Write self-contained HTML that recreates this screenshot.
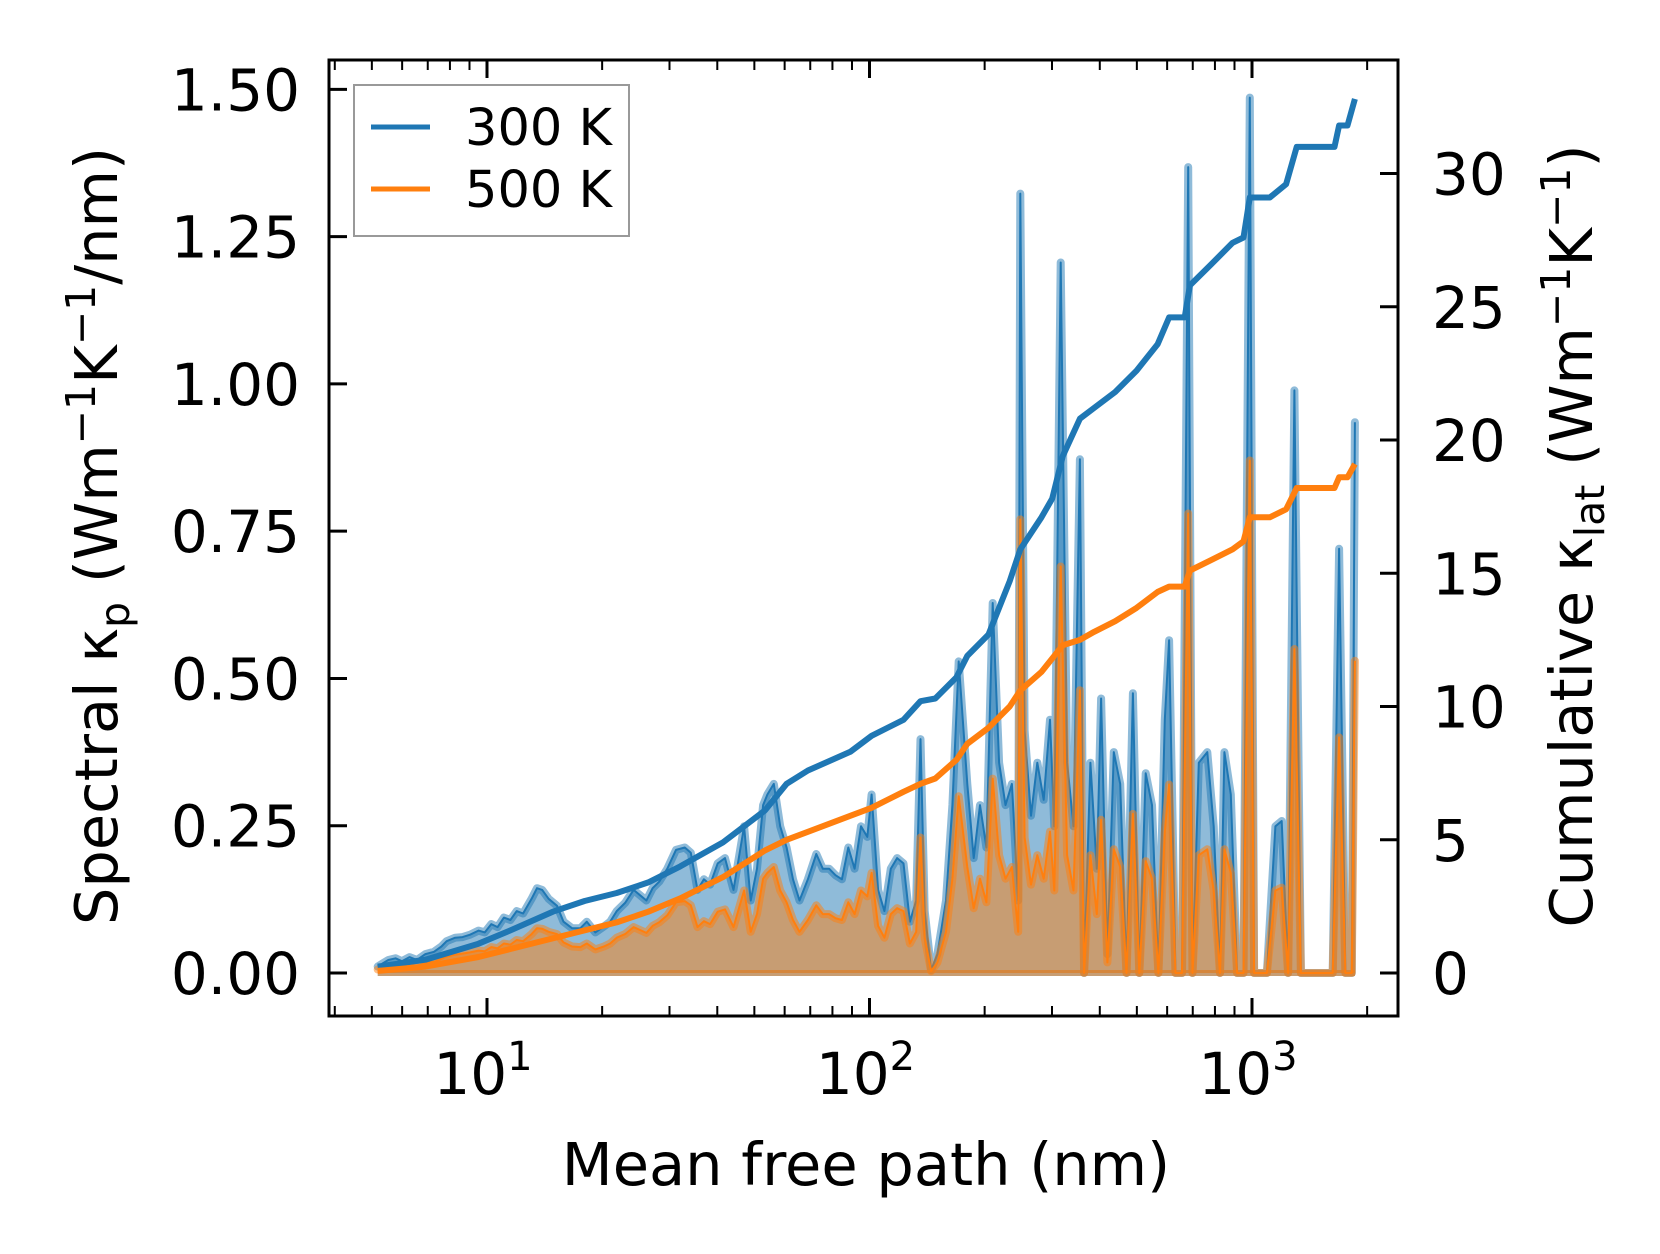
<!DOCTYPE html>
<html><head><meta charset="utf-8"><style>
html,body{margin:0;padding:0;background:#fff;}
svg{display:block;font-family:"DejaVu Sans","Liberation Sans",sans-serif;}
</style></head><body>
<svg id="chart" width="1660" height="1254" viewBox="0 0 1660 1254">
<rect width="1660" height="1254" fill="#fff"/>
<defs><clipPath id="clip"><rect x="329" y="60" width="1069" height="956"/></clipPath></defs>
<g id="marks" clip-path="url(#clip)"></g>
<g id="axes"></g>
</svg>
<script>
const mfp=[5.18,5.52,5.77,5.99,6.27,6.56,6.90,7.27,7.60,7.84,8.26,8.63,9.03,9.50,9.87,10.26,10.66,11.07,11.51,11.96,12.43,13.08,13.51,13.94,14.49,15.24,15.85,16.68,17.55,18.24,19.19,20.21,21.0,21.83,22.97,24.17,25.12,26.1,27.1,28.2,29.6,31.2,32.9,34.1,35.5,36.9,38.3,40.1,41.9,44.1,47.0,48.9,50.8,52.7,54.1,56.2,58.4,60.7,63.1,65.6,69.0,72.6,75.5,78.4,81.5,84.7,88.0,91.4,95.0,98.7,101.3,105.3,109.4,113.7,118.1,122.7,127.5,132.5,135.9,139.4,144.9,150.5,158.5,164.7,171.1,180.2,187.2,194.5,202.1,210.0,218.2,226.7,235.6,244.8,247.9,254.4,264.3,274.6,285.3,296.5,304.1,316.2,328.5,341.4,354.8,363.9,378.1,392.9,403.1,418.8,435.2,452.2,469.9,488.3,507.3,527.2,547.8,569.2,591.5,607,631,656,681,699,726,764,794,825,847,880,914,950,987,1013,1053,1094,1151,1196,1243,1291,1342,1394,1449,1625,1689,1755,1824,1858];
const spec300=[.011,.022,.025,.020,.027,.022,.032,.036,.045,.054,.060,.061,.065,.072,.069,.083,.078,.094,.090,.105,.101,.126,.144,.141,.126,.114,.087,.076,.076,.087,.069,.079,.087,.105,.119,.141,.132,.123,.144,.155,.177,.209,.213,.204,.141,.159,.150,.186,.195,.141,.249,.123,.177,.285,.303,.321,.249,.213,.159,.123,.159,.202,.177,.177,.166,.159,.213,.177,.249,.231,.303,.141,.105,.177,.195,.186,.087,.123,.397,.105,.005,.032,.123,.285,.529,.321,.195,.285,.213,.628,.357,.285,.321,.123,1.323,.412,.267,.357,.294,.430,.249,1.206,.357,.249,.872,0,.357,.177,.466,.032,.375,.321,0,.475,0,.339,.285,0,.430,.565,0,0,1.368,0,.357,.375,.249,0,.375,.303,0,0,1.486,0,0,0,.249,.258,0,.989,0,0,0,0,.72,0,0,.935];
const spec500=[.006,.010,.012,.011,.014,.012,.017,.019,.024,.028,.031,.033,.035,.038,.037,.044,.042,.050,.048,.056,.054,.066,.076,.075,.070,.066,.052,.045,.044,.050,.040,.045,.050,.060,.066,.078,.073,.068,.080,.086,.098,.120,.122,.115,.078,.088,.083,.104,.108,.078,.140,.070,.100,.160,.170,.180,.140,.120,.090,.070,.090,.115,.100,.100,.093,.090,.120,.100,.140,.130,.170,.080,.060,.100,.110,.105,.050,.070,.230,.060,.003,.018,.070,.160,.300,.180,.110,.160,.120,.330,.200,.160,.180,.070,.770,.230,.150,.200,.160,.240,.140,.690,.200,.140,.480,0,.200,.100,.260,.018,.210,.180,0,.270,0,.190,.160,0,.240,.320,0,0,.780,0,.200,.210,.140,0,.210,.170,0,0,.870,0,0,0,.140,.145,0,.550,0,0,0,0,.400,0,0,.530];
const cumMfp=[5.18,6.90,9.50,11.51,14.86,18.0,21.83,26.4,32.0,41.4,53.3,60.7,69.0,89.1,101.3,122.7,135.9,148.6,168.8,180.2,204.7,232.6,247.9,281.7,300.4,320.2,354.8,386.4,439,499,567,607,667,688,783,890,950,987,1113,1228,1309,1643,1689,1777,1858];
const cum300=[0.24,0.5,1.1,1.6,2.3,2.7,3.0,3.4,4.0,4.9,6.1,7.1,7.6,8.3,8.9,9.5,10.2,10.3,11.1,11.9,12.7,14.7,15.9,17.1,17.8,19.4,20.8,21.2,21.8,22.6,23.6,24.6,24.6,25.8,26.6,27.4,27.6,29.1,29.1,29.6,31.0,31.0,31.8,31.8,32.8];
const cum500=[0.08,0.24,0.6,0.9,1.3,1.6,1.9,2.3,2.8,3.6,4.6,5.0,5.3,5.9,6.2,6.8,7.1,7.3,8.0,8.6,9.2,10.0,10.6,11.3,11.8,12.3,12.5,12.8,13.2,13.7,14.3,14.5,14.5,15.1,15.5,15.9,16.2,17.1,17.1,17.4,18.2,18.2,18.6,18.6,19.1];
const leftTicks=[0,0.25,0.5,0.75,1.0,1.25,1.5];
const leftTickLabels=["0.00","0.25","0.50","0.75","1.00","1.25","1.50"];
const rightTicks=[0,5,10,15,20,25,30];
const xDecades=[1,2,3];

const NS="http://www.w3.org/2000/svg";
const L=329,R=1398,T=60,B=1016;
function X(v){return 487+(Math.log10(v)-1)*382.5;}
function YL(v){return 973-v*589.1;}
function YR(v){return 973-v*26.65;}
function mk(tag,attrs,parent){const e=document.createElementNS(NS,tag);for(const k in attrs)e.setAttribute(k,attrs[k]);parent.appendChild(e);return e;}
const marks=document.getElementById('marks'),axes=document.getElementById('axes');

function spectral(vals,color,nm){
  let d='M'+X(mfp[0])+','+YL(0);
  mfp.forEach((m,i)=>{d+=' L'+X(m).toFixed(1)+','+YL(vals[i]).toFixed(1);});
  d+=' L'+X(mfp[mfp.length-1])+','+YL(0)+' Z';
  const f=mk('path',{d:d,fill:color,'fill-opacity':0.5,stroke:'none'},marks);
  
  
  let p=mfp.map((m,i)=>(i?'L':'M')+X(m).toFixed(1)+','+YL(vals[i]).toFixed(1)).join(' ');
  const h=mk('path',{d:p,fill:'none',stroke:color,'stroke-width':8,'stroke-opacity':0.5,'stroke-linejoin':'round','stroke-linecap':'round'},marks);
  
  
  const l=mk('path',{d:p,fill:'none',stroke:color,'stroke-width':2,'stroke-linejoin':'round'},marks);
  
  
  const b=mk('line',{x1:X(mfp[0]),x2:X(mfp[mfp.length-1]),y1:YL(0),y2:YL(0),stroke:color,'stroke-width':6,'stroke-opacity':0.5},marks);
  
  
}
spectral(spec300,'#1f77b4','spectral-300k');
spectral(spec500,'#ff7f0e','spectral-500k');
function cum(vals,color,nm){
  const p=cumMfp.map((m,i)=>(i?'L':'M')+X(m).toFixed(1)+','+YR(vals[i]).toFixed(1)).join(' ');
  const e=mk('path',{d:p,fill:'none',stroke:color,'stroke-width':6,'stroke-linejoin':'round'},marks);
  
  
}
cum(cum300,'#1f77b4','cumulative-300k');
cum(cum500,'#ff7f0e','cumulative-500k');

const fr=mk('rect',{x:L,y:T,width:R-L,height:B-T,fill:'none',stroke:'#000','stroke-width':3},axes);


leftTicks.forEach((v,i)=>{
  const y=YL(v);
  const t=mk('line',{x1:L,x2:L+18,y1:y,y2:y,stroke:'#000','stroke-width':3},axes);
  
  
  const tx=mk('text',{x:300,y:y+21,'text-anchor':'end','font-size':58},axes);
  tx.textContent=leftTickLabels[i];
  
  
});
rightTicks.forEach(v=>{
  const y=YR(v);
  const t=mk('line',{x1:R-18,x2:R,y1:y,y2:y,stroke:'#000','stroke-width':3},axes);
  
  
  const tx=mk('text',{x:1432,y:y+21,'text-anchor':'start','font-size':58},axes);
  tx.textContent=String(v);
  
  
});
for(let dec=0;dec<=3;dec++){
  for(let k=1;k<=9;k++){
    const v=k*Math.pow(10,dec);const x=X(v);
    if(x<L+2||x>R-2)continue;
    const len=k===1?18:10;
    [[B,B-len],[T,T+len]].forEach(([a,b2])=>{
      const t=mk('line',{x1:x,x2:x,y1:a,y2:b2,stroke:'#000','stroke-width':k===1?3:2},axes);
      
      
    });
  }
}
xDecades.forEach(d=>{
  const x=X(Math.pow(10,d));
  const tx=mk('text',{x:x-4,y:1094,'text-anchor':'middle','font-size':58},axes);
  tx.textContent='10';
  const s=mk('tspan',{dy:-24,'font-size':40},tx);s.textContent=String(d);
  
  
});
</script>
<svg style="position:absolute;left:0;top:0" width="1660" height="1254">
<text x="866" y="1185" text-anchor="middle" font-size="59" font-family="DejaVu Sans, Liberation Sans, sans-serif">Mean free path (nm)</text>
<text transform="translate(117,536) rotate(-90)" text-anchor="middle" font-size="59" font-family="DejaVu Sans, Liberation Sans, sans-serif">Spectral κ<tspan font-size="41" dy="12">p</tspan><tspan dy="-12"> (Wm</tspan><tspan font-size="41" dy="-22">−1</tspan><tspan dy="22">K</tspan><tspan font-size="41" dy="-22">−1</tspan><tspan dy="22">/nm)</tspan></text>
<text transform="translate(1592,536) rotate(-90)" text-anchor="middle" font-size="59" font-family="DejaVu Sans, Liberation Sans, sans-serif">Cumulative κ<tspan font-size="41" dy="12">lat</tspan><tspan dy="-12"> (Wm</tspan><tspan font-size="41" dy="-22">−1</tspan><tspan dy="22">K</tspan><tspan font-size="41" dy="-22">−1</tspan><tspan dy="22">)</tspan></text>
<g>
<rect x="354" y="85" width="275" height="151" fill="#fff" fill-opacity="0.8" stroke="#999" stroke-width="2"/>
<line x1="371" x2="430" y1="127" y2="127" stroke="#1f77b4" stroke-width="5"/>
<text x="465" y="145" font-size="51" font-family="DejaVu Sans, Liberation Sans, sans-serif">300 K</text>
<line x1="371" x2="430" y1="189" y2="189" stroke="#ff7f0e" stroke-width="5"/>
<text x="465" y="207" font-size="51" font-family="DejaVu Sans, Liberation Sans, sans-serif">500 K</text>
</g>
</svg>
</body></html>
